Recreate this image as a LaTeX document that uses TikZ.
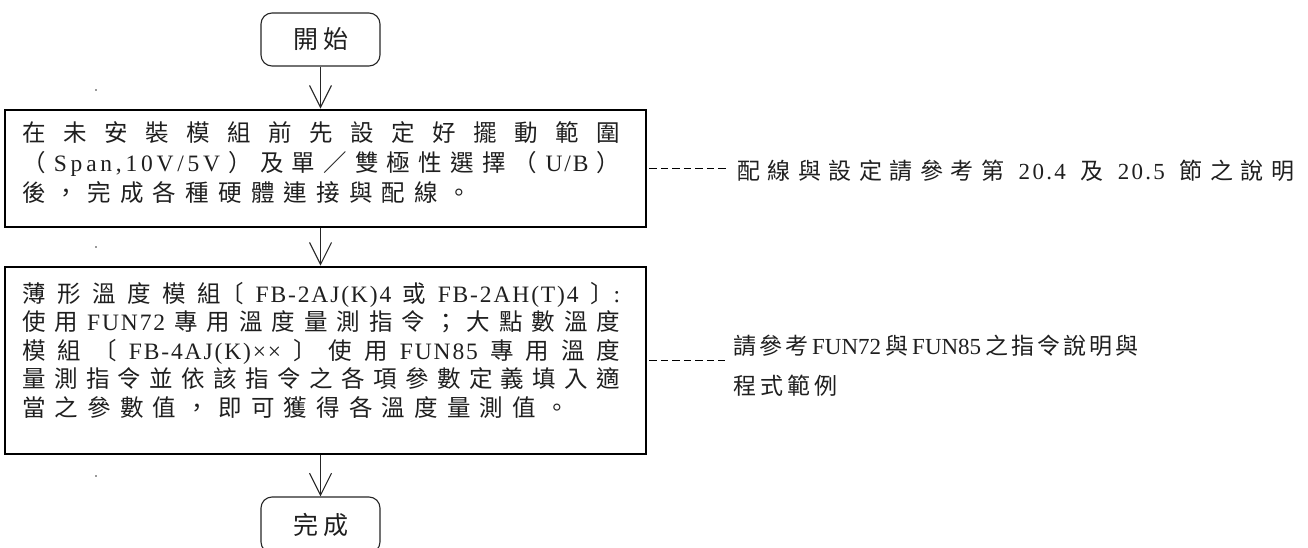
\documentclass[tikz,border=0pt]{standalone}
\usepackage{fontspec}
\setmainfont{Noto Sans CJK TC}
\newfontfamily\latf[LetterSpace=8]{Liberation Serif}
\newfontfamily\latw[LetterSpace=16]{Liberation Serif}
\newfontfamily\latn[LetterSpace=10]{Liberation Serif}
\newfontfamily\latp{Liberation Serif}
\newcommand\lat[1]{{\latf #1}}
\newcommand\latS[1]{{\latw #1}}
\newcommand\latN[1]{{\latn #1}}
\newcommand\latP[1]{{\latp #1}}
\usetikzlibrary{arrows.meta}
\makeatletter
\def\sp@end{\sp@end@}
\newcommand\spreadline[2]{\def\sp@gap{#1}\sp@first#2\sp@end}
\def\sp@first#1{#1\sp@next}
\def\sp@next#1{\ifx\sp@end#1\else\hskip\sp@gap\relax#1\expandafter\sp@next\fi}
\makeatother
\newcommand\jline[1]{\hbox to 598pt{\spreadline{0pt plus 1fil}{#1}}}
\newcommand\nline[1]{\hbox{\spreadline{9.2pt}{#1}}}
\begin{document}
\begin{tikzpicture}[x=1pt,y=-1pt,
  boxst/.style={draw=black, line width=2.6pt, inner sep=0pt},
  termst/.style={draw=black!85, line width=1.1pt, rounded corners=11pt, inner sep=0pt,
     minimum width=119pt, text=black!88, font=\fontsize{25}{29}\selectfont},
  txtst/.style={anchor=base west, inner sep=0pt, text=black!88},
  arr/.style={draw=black!85, line width=1.1pt, -{Straight Barb[length=22pt,width=22pt,line width=1.1pt]}},
  dsh/.style={draw=black, line width=1.8pt, dash pattern=on 7.5pt off 4pt},
  notest/.style={anchor=base west, inner sep=0pt, text=black!88, font=\fontsize{23}{27}\selectfont},
  dotst/.style={circle, fill=black!80, inner sep=0pt, minimum size=1.6pt}]
\useasboundingbox (0,0) rectangle (1308,548);

% terminals
\node[termst, minimum height=53pt] (start) at (320.5,39.5) {\spreadline{5pt}{開始}};
\node[termst, minimum height=56pt] (finish) at (320.5,525) {\spreadline{5pt}{完成}};

% process boxes
\node[boxst, minimum width=641pt, minimum height=117pt] (b1) at (325.5,168.5) {};
\node[boxst, minimum width=641pt, minimum height=187pt] (b2) at (325.5,360.5) {};

\node[txtst, font=\fontsize{23.5}{30}\selectfont] (t1) at (22,142) {\vtop{\baselineskip=30pt
  \jline{在未安裝模組前先設定好擺動範圍}
  \jline{（{\latS{Span,10V/5V}}）及單／雙極性選擇（{\lat{U/B}}）}
  \nline{後，完成各種硬體連接與配線。}}};

\node[txtst, font=\fontsize{23.5}{28.5}\selectfont] (t2) at (22,302) {\vtop{\baselineskip=28.5pt
  \jline{薄形溫度模{組〔}{\lat{FB-2AJ(K)4}}或{\lat{FB-2AH(T)4}}{〕\lat{:}}}
  \jline{使用{\lat{FUN72}}專用溫度量測指令；大點數溫度}
  \jline{模組〔{\lat{FB-4AJ(K)××}}〕使用{\lat{FUN85}}專用溫度}
  \jline{量測指令並依該指令之各項參數定義填入適}
  \nline{當之參數值，即可獲得各溫度量測值。}}};

% notes
\node[notest] (n1) at (737,179) {\spreadline{7.5pt}{配線與設定請參考第}\hskip14.5pt
  \latN{20.4}\hskip14.5pt 及\hskip14.5pt\latN{20.5}\hskip14.5pt\spreadline{7.5pt}{節之說明}};
\node[notest] (n2) at (733,354) {\vtop{\baselineskip=40pt
  \hbox{\spreadline{3pt}{請參考}\hskip4pt\latP{FUN72}\hskip4pt 與\hskip4pt\latP{FUN85}\hskip4pt\spreadline{3pt}{之指令說明與}}
  \hbox{\spreadline{4pt}{程式範例}}}};

% connectors
\draw[arr] (start.south) -- (start.south |- b1.north);
\draw[arr] (start.south |- b1.south) -- (start.south |- b2.north);
\draw[arr] (start.south |- b2.south) -- (finish.north);
\draw[dsh, shorten <=2pt, shorten >=10pt] (b1.east) -- (b1.east -| n1.west);
\draw[dsh, shorten <=2pt, shorten >=8pt] (b2.east) -- (b2.east -| n2.west);

% stray dots
\node[dotst] (d1) at (96,90) {};
\node[dotst] (d2) at (96,247) {};
\node[dotst] (d3) at (96,476) {};
\end{tikzpicture}
\end{document}
